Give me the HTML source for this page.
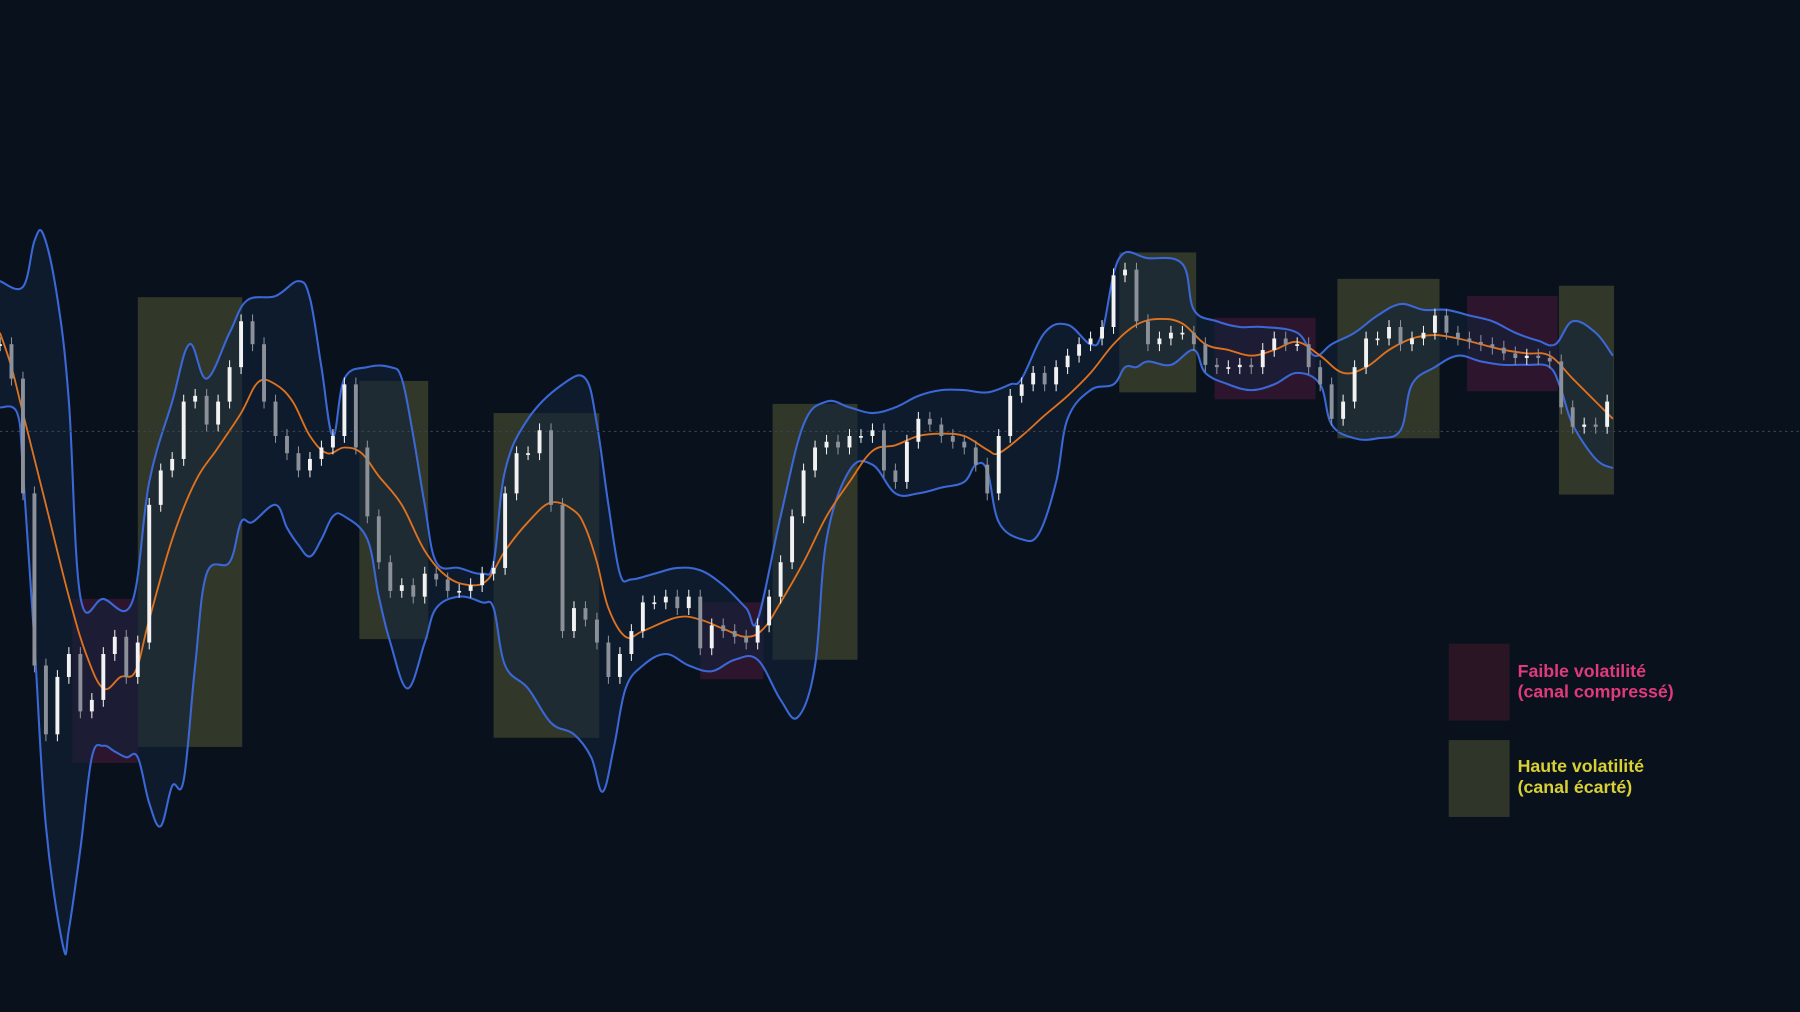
<!DOCTYPE html>
<html><head><meta charset="utf-8"><style>
html,body{margin:0;padding:0;background:#09121c;}
svg{display:block;}
</style></head>
<body>
<svg id="chart" width="1800" height="1012" viewBox="0 0 1568 882" preserveAspectRatio="none" xmlns="http://www.w3.org/2000/svg">
<rect x="0" y="0" width="1568" height="882" fill="#09121c"/>
<g id="zones"></g>
<g id="bands"></g>
<line x1="0" y1="376" x2="1568" y2="376" stroke="#3a4450" stroke-width="1" stroke-dasharray="2,3"/>
<g id="candles"></g>
<g>
<rect x="1262" y="561" width="53" height="67" fill="#2a1524"/>
<text x="1322" y="590" fill="#e03a7c" font-family="Liberation Sans, sans-serif" font-weight="bold" font-size="15.5">Faible volatilité</text>
<text x="1322" y="608" fill="#e03a7c" font-family="Liberation Sans, sans-serif" font-weight="bold" font-size="15.5">(canal compressé)</text>
<rect x="1262" y="645" width="53" height="67" fill="#30352a"/>
<text x="1322" y="673" fill="#d8d035" font-family="Liberation Sans, sans-serif" font-weight="bold" font-size="15.5">Haute volatilité</text>
<text x="1322" y="691" fill="#d8d035" font-family="Liberation Sans, sans-serif" font-weight="bold" font-size="15.5">(canal écarté)</text>
</g>
</svg>
<script>
// closing prices, one per bar
const closes = [700,670,570,420,360,410,430,380,390,430,445,410,440,560,590,600,650,655,630,650,680,720,700,650,620,605,590,600,610,620,665,610,550,510,485,490,480,500,495,485,485,490,500,505,570,605,605,625,560,450,470,460,440,410,430,450,475,475,480,470,480,435,455,450,445,440,455,480,510,550,590,610,615,610,620,620,625,590,580,615,635,630,620,615,610,595,570,620,655,665,675,665,680,690,700,705,715,760,765,720,700,705,710,710,700,682,680,680,682,680,695,705,700,700,680,665,635,650,680,705,705,715,700,705,710,725,710,705,702,700,697,692,688,690,688,685,645,628,630,628,650];
// upper band (bar index, price)
const upperIdx = [0,2,3,3.8,5,6,7,9,11.5,13,15,16.5,18,20,21.5,24,26,27,28,29,30,32,34,35,36,37,38,40,42,43,44,46,49,51,52,53,54,55,57,59,61,63,65,66,68,70,72,74,76,78,80,82,84,86,88,89,91,93,95,96,97.5,100,103,104,106,108,110,113,114.5,116,118,120,122,124,126,128,130,132,134,135.5,137,139,140.5];
const upperVal = [755,750,790,795,740,650,480,478,475,580,650,700,670,710,738,742,755,740,680,620,670,680,680,670,620,560,510,505,500,510,590,635,665,670,630,560,500,495,500,505,503,490,470,460,550,630,650,645,640,645,655,660,660,658,665,670,710,717,700,710,775,775,770,730,720,715,715,710,690,700,710,725,735,730,730,725,720,710,703,700,720,710,690];
// lower band
const lowerIdx = [0,1.5,2,3,4,5.5,6,7,8,9,10,11,12,13,14,15,16,17,18,20,21,22,24,25,26,27,28,29,30,32,33,34,35.5,37,38,40,42,43,44,46,48,50,51.5,52.5,53.5,54.5,56,58,60,62,64,66,68,69.5,71,72,74,76,78,80,82,84,85,86,87,89,90.5,92,93,95,97,98,99,100,102,104,105,107,109,111,113,115,116,118,120,122,123,125,127,129,131,133,135,136,137,139,140.5];
const lowerVal = [645,640,590,440,280,175,190,260,340,350,345,340,340,300,280,315,320,420,500,510,545,545,560,540,525,515,530,550,550,530,480,440,400,440,470,480,475,470,420,400,370,360,340,310,350,400,420,430,420,415,425,425,390,375,420,530,590,595,570,570,575,580,595,590,545,530,535,580,635,660,665,680,680,685,682,695,675,665,660,665,675,665,630,618,618,625,665,680,690,685,682,682,680,660,630,600,592];
// middle band (SMA)
const midIdx = [0,1,2,4,6,7.5,9,10.5,11.8,13,15,17,19,21,22.5,24,25.5,27,28.5,30,31.5,33,35,37,39,41,42.5,44,46,48,50,51,52,53,54.5,56,59,61,63,65,66.5,68,70,72,74,76,78,80,82,84,86,87,89,91,93,95,97,99,101,103,105,107,109,111,113,115,117,119,121,123,125,127,129,131,133,135,137,139,140.5];
const midVal = [710,680,640,560,480,430,400,410,415,460,530,580,610,640,667,665,650,620,605,610,605,585,560,520,497,490,495,520,545,562,555,540,510,470,445,450,462,460,452,445,452,475,510,550,580,607,612,620,622,620,608,605,620,638,655,675,700,717,722,718,700,695,690,695,702,690,675,680,695,705,708,705,700,695,692,690,670,650,635];
// volatility zones: start bar, end bar, top price, bottom price
const highStart = [12,31.3,43,67.3,97.5,116.5,135.8];
const highEnd = [21.1,37.3,52.2,74.7,104.2,125.4,140.6];
const highTop = [741,668,640,648,780,757,751];
const highBottom = [349,443,357,425,658,618,569];
const lowStart = [6.3,61,105.8,127.8];
const lowEnd = [12,66.5,114.6,135.7];
const lowTop = [478,475,723,742];
const lowBottom = [335,408,652,659];

const NS = 'http://www.w3.org/2000/svg';
function xScale(i){ return i * 10; }
function yScale(p){ return 1000 - p; }
function mk(tag, attrs){ const e = document.createElementNS(NS, tag); for (const k in attrs) e.setAttribute(k, attrs[k]); return e; }
function xy(ix, vals){ return ix.map((d, k) => [xScale(d), yScale(vals[k])]); }
function smooth(p, move){
  let d = (move ? 'M' : 'L') + p[0][0].toFixed(1) + ',' + p[0][1].toFixed(1);
  for (let i = 0; i < p.length - 1; i++) {
    const p0 = p[Math.max(0, i - 1)], p1 = p[i], p2 = p[i + 1], p3 = p[Math.min(p.length - 1, i + 2)];
    const t = 0.18;
    const c1 = [p1[0] + (p2[0] - p0[0]) * t, p1[1] + (p2[1] - p0[1]) * t];
    const c2 = [p2[0] - (p3[0] - p1[0]) * t, p2[1] - (p3[1] - p1[1]) * t];
    d += 'C' + c1[0].toFixed(1) + ',' + c1[1].toFixed(1) + ' ' + c2[0].toFixed(1) + ',' + c2[1].toFixed(1) + ' ' + p2[0].toFixed(1) + ',' + p2[1].toFixed(1);
  }
  return d;
}

const zones = document.getElementById('zones');
highStart.forEach((s, k) => {
  const r = mk('rect', {x: xScale(s), y: yScale(highTop[k]), width: xScale(highEnd[k]) - xScale(s), height: yScale(highBottom[k]) - yScale(highTop[k]), fill: '#5a5c35', 'fill-opacity': 0.5});
  
  
  zones.appendChild(r);
});
lowStart.forEach((s, k) => {
  const r = mk('rect', {x: xScale(s), y: yScale(lowTop[k]), width: xScale(lowEnd[k]) - xScale(s), height: yScale(lowBottom[k]) - yScale(lowTop[k]), fill: '#4a1a3c', 'fill-opacity': 0.55});
  
  
  zones.appendChild(r);
});

const bands = document.getElementById('bands');
const up = xy(upperIdx, upperVal), lo = xy(lowerIdx, lowerVal);
const fill = mk('path', {d: smooth(up, true) + smooth(lo.slice().reverse(), false) + 'Z', fill: '#10233c', 'fill-opacity': 0.55});


bands.appendChild(fill);
const upL = mk('path', {d: smooth(up, true), fill: 'none', stroke: '#3b68d6', 'stroke-width': 1.8});


bands.appendChild(upL);
const loL = mk('path', {d: smooth(lo, true), fill: 'none', stroke: '#3b68d6', 'stroke-width': 1.8});


bands.appendChild(loL);
const midL = mk('path', {d: smooth(xy(midIdx, midVal), true), fill: 'none', stroke: '#e0721e', 'stroke-width': 1.6});


bands.appendChild(midL);

const cg = document.getElementById('candles');
closes.forEach((c, i) => {
  const o = i === 0 ? c : closes[i - 1];
  const hi = Math.max(o, c) + 6, lw = Math.min(o, c) - 6;
  const col = c >= o ? '#f2f2f2' : '#8c9199';
  const g = mk('g', {});
  
  
  g.appendChild(mk('line', {x1: xScale(i), x2: xScale(i), y1: yScale(hi), y2: yScale(lw), stroke: col, 'stroke-width': 0.9}));
  const top = yScale(Math.max(o, c)), h = Math.max(1.5, yScale(Math.min(o, c)) - top);
  g.appendChild(mk('rect', {x: xScale(i) - 1.7, y: top, width: 3.4, height: h, fill: col}));
  cg.appendChild(g);
});
</script>
</body></html>
